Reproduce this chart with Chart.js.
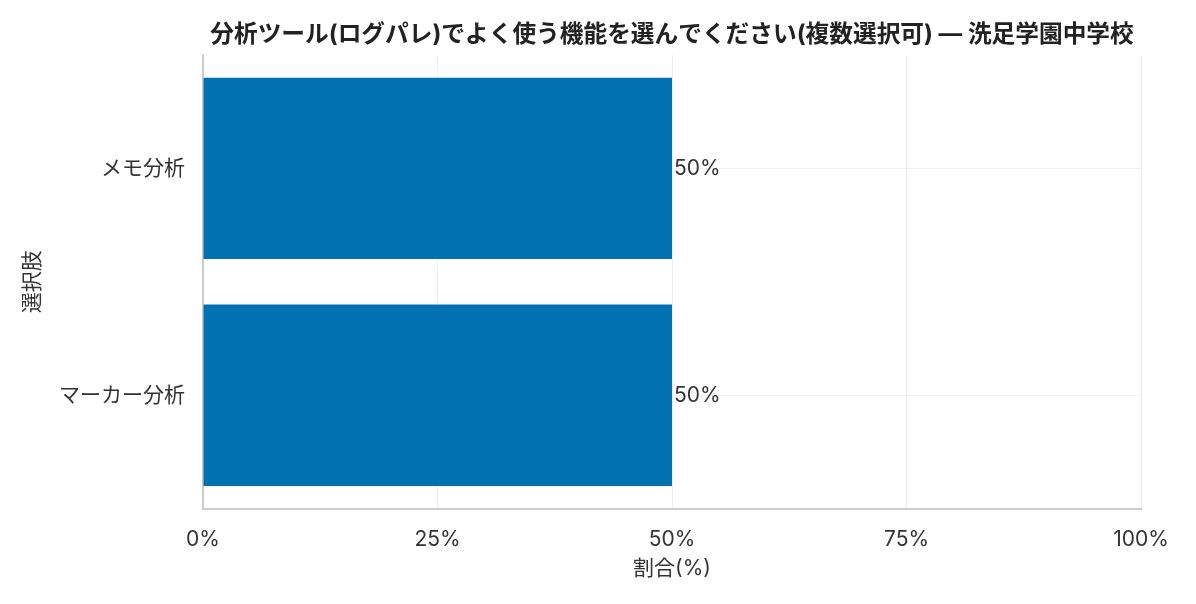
<!DOCTYPE html>
<html>
<head>
<meta charset="utf-8">
<script src="https://cdn.jsdelivr.net/npm/chart.js@4"></script>
<style>
  html, body { margin: 0; padding: 0; background: #fff; }
  #wrap { width: 1196px; height: 604px; }
</style>
</head>
<body>
<div id="wrap"><canvas id="chart"></canvas></div>
<script>
// Données du graphique
const categories = ['メモ分析', 'マーカー分析'];
const values = [50, 50];
const xTicks = [0, 25, 50, 75, 100];
const chartTitle = '分析ツール(ログパレ)でよく使う機能を選んでください(複数選択可) — 洗足学園中学校';

const FONT = "Inter, 'Noto Sans CJK JP', sans-serif";

// Titre centré sur la zone du graphique
const centeredTitle = {
    id: 'centeredTitle',
    afterDraw(chart) {
        const ctx = chart.ctx;
        const area = chart.chartArea;
        ctx.save();
        ctx.font = 'bold 23.7px ' + FONT;
        ctx.fillStyle = '#222';
        ctx.textAlign = 'center';
        ctx.textBaseline = 'middle';
        ctx.fillText(chartTitle, (area.left + area.right) / 2, 35);
        ctx.restore();
    }
};

// Étiquettes de valeur à droite des barres
const valueLabels = {
    id: 'valueLabels',
    afterDatasetsDraw(chart) {
        const ctx = chart.ctx;
        const meta = chart.getDatasetMeta(0);
        ctx.save();
        ctx.font = '21px ' + FONT;
        ctx.fillStyle = '#333';
        ctx.textAlign = 'left';
        ctx.textBaseline = 'middle';
        meta.data.forEach((bar, i) => {
            ctx.fillText(values[i] + '%', bar.x + 2, bar.y);
        });
        ctx.restore();
    }
};

new Chart(document.getElementById('chart'), {
    type: 'bar',
    data: {
        labels: categories,
        datasets: [{
            data: values,
            backgroundColor: '#0072B2',
            barPercentage: 0.8,
            categoryPercentage: 1.0
        }]
    },
    options: {
        indexAxis: 'y',
        responsive: true,
        maintainAspectRatio: false,
        animation: false,
        layout: { padding: { left: 16, right: 55, top: 55, bottom: 19 } },
        plugins: {
            legend: { display: false },
            tooltip: { enabled: false },
            title: { display: false }
        },
        scales: {
            x: {
                min: 0,
                max: 100,
                afterBuildTicks: scale => { scale.ticks = xTicks.map(v => ({ value: v })); },
                ticks: {
                    callback: v => v + '%',
                    color: '#333',
                    font: { family: FONT, size: 21 },
                    padding: 18
                },
                grid: { color: '#f0f0f0', lineWidth: 1, drawTicks: false },
                border: { color: '#cccccc', width: 2 },
                title: {
                    display: true,
                    text: '割合(%)',
                    color: '#333',
                    font: { family: FONT, size: 21 },
                    padding: { top: -14, bottom: 4 }
                }
            },
            y: {
                ticks: {
                    color: '#333',
                    font: { family: FONT, size: 21 },
                    padding: 18
                },
                grid: { color: '#f0f0f0', lineWidth: 1, drawTicks: false, offset: false },
                border: { color: '#cccccc', width: 2 },
                title: {
                    display: true,
                    text: '選択肢',
                    color: '#333',
                    font: { family: FONT, size: 21 },
                    padding: { bottom: 8 }
                },
                afterFit: scale => { scale.width = 187; }
            }
        }
    },
    plugins: [valueLabels, centeredTitle]
});
</script>
</body>
</html>
